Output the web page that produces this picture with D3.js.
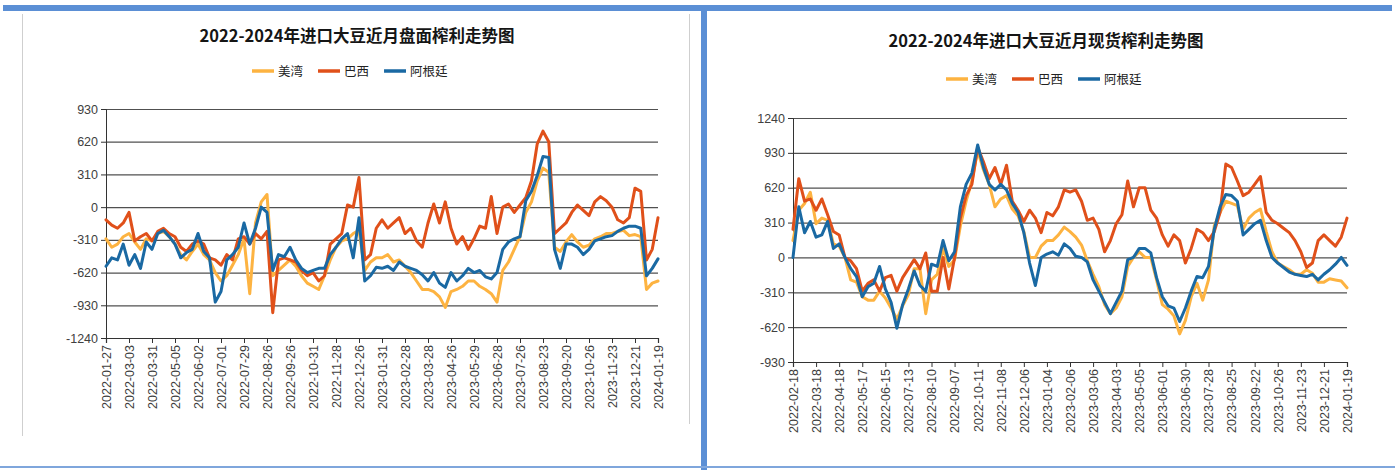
<!DOCTYPE html>
<html><head><meta charset="utf-8">
<script src="https://cdn.jsdelivr.net/npm/d3@7/dist/d3.min.js"></script>
<style>body{margin:0;background:#fff;}svg{display:block}</style>
</head><body>
<svg id="c" width="1395" height="470"></svg>
<script>
// ---------- DATA ----------
const seriesNames = ["美湾", "巴西", "阿根廷"];
const seriesColors = ["#FDB341", "#E0501A", "#1A69A3"];

// Left chart: 盘面榨利 (samples at 4 per label interval)
const leftTitle = "2022-2024年进口大豆近月盘面榨利走势图";
const leftLabels = ["2022-01-27","2022-03-03","2022-03-31","2022-05-05","2022-06-02","2022-07-01","2022-07-29","2022-08-26","2022-09-26","2022-10-31","2022-11-28","2022-12-26","2023-01-31","2023-02-28","2023-03-28","2023-04-26","2023-05-29","2023-06-28","2023-07-26","2023-08-23","2023-09-20","2023-10-26","2023-11-23","2023-12-21","2024-01-19"];
const leftYTicks = [930, 620, 310, 0, -310, -620, -930, -1240];
const leftUS = [-300,-380,-350,-280, -250,-330,-400,-300, -320,-250,-230,-280, -350,-450,-500,-420, -350,-450,-500,-620, -700,-650,-550,-450, -300,-820,-150,50, 120,-650,-600,-550, -500,-560,-650,-720, -750,-780,-650,-500, -380,-320,-300,-250, -220,-600,-520,-480, -480,-450,-520,-500, -560,-620,-700,-780, -780,-800,-850,-950, -800,-780,-750,-700, -700,-750,-780,-820, -900,-600,-520,-400, -280,-50,50,250, 370,330,-380,-420, -330,-260,-330,-380, -360,-300,-280,-250, -250,-230,-220,-270, -260,-280,-780,-720, -700];
const leftBR = [-120,-170,-200,-150, -50,-320,-280,-250, -320,-230,-200,-250, -280,-380,-420,-350, -320,-350,-480,-500, -550,-450,-500,-300, -280,-350,-250,-300, -230,-1000,-500,-480, -500,-520,-600,-650, -620,-700,-650,-350, -300,-250,20,0, 280,-500,-450,-200, -120,-200,-150,-100, -250,-200,-320,-380, -150,30,-150,50, -200,-350,-280,-400, -300,-180,-200,100, -250,0,30,-50, 20,90,250,600, 720,620,-250,-200, -150,-50,20,-30, -80,50,100,60, 0,-120,-150,-100, 180,150,-500,-400, -100];
const leftAR = [-560,-480,-500,-350, -550,-450,-580,-330, -400,-250,-220,-280, -350,-480,-430,-400, -250,-420,-480,-900, -800,-500,-450,-380, -150,-350,-200,0, -50,-600,-450,-470, -380,-500,-580,-620, -600,-580,-580,-450, -380,-300,-250,-480, -100,-700,-650,-570, -580,-560,-600,-520, -560,-580,-600,-640, -700,-620,-720,-760, -620,-700,-650,-580, -620,-600,-660,-680, -620,-400,-330,-300, -280,60,150,300, 480,470,-400,-580, -350,-350,-380,-450, -400,-320,-300,-280, -270,-230,-200,-180, -180,-200,-650,-580, -490];

// Right chart: 现货榨利
const rightTitle = "2022-2024年进口大豆近月现货榨利走势图";
const rightLabels = ["2022-02-18","2022-03-18","2022-04-18","2022-05-17","2022-06-15","2022-07-13","2022-08-10","2022-09-07","2022-10-11","2022-11-08","2022-12-06","2023-01-04","2023-02-06","2023-03-06","2023-04-03","2023-05-05","2023-06-01","2023-06-30","2023-07-28","2023-08-25","2023-09-22","2023-10-26","2023-11-23","2023-12-21","2024-01-19"];
const rightYTicks = [1240, 930, 620, 310, 0, -310, -620, -930];
const rightUS = [150,420,480,580, 300,350,330,120, 100,0,-200,-220, -350,-380,-380,-300, -360,-450,-550,-430, -330,-100,-100,-500, -200,-150,80,-80, -20,280,500,680, 950,780,650,450, 520,550,430,370, 230,0,0,100, 150,150,200,270, 230,180,110,-30, -150,-260,-420,-500, -450,-350,-80,0, 50,0,0,-200, -420,-460,-520,-680, -560,-350,-230,-380, -200,280,400,500, 480,460,250,350, 400,430,230,50, -50,-80,-110,-150, -150,-110,-140,-220, -220,-190,-200,-210, -270];
const rightBR = [250,700,500,520, 420,520,380,230, 200,0,-30,-100, -300,-230,-200,-300, -180,-160,-300,-180, -100,-20,-100,40, -300,-300,0,-280, 0,350,550,650, 980,850,700,800, 650,820,500,420, 320,420,350,220, 400,370,450,600, 580,600,500,330, 350,250,50,150, 300,380,680,450, 620,620,420,350, 200,100,200,150, -50,80,250,220, 150,230,400,830, 800,680,550,580, 650,720,400,330, 300,260,220,150, 50,-90,-50,150, 200,150,100,180, 350];
const rightAR = [0,450,220,320, 180,200,320,80, 120,0,-100,-170, -350,-260,-230,-80, -280,-400,-630,-420, -280,-120,-250,-300, -60,-80,150,-30, 50,450,650,750, 1000,800,650,600, 650,600,480,400, 220,-50,-250,0, 30,50,20,120, 80,10,0,-40, -200,-300,-400,-500, -400,-300,-20,0, 80,80,40,-180, -350,-430,-450,-570, -450,-300,-170,-180, -80,250,450,560, 550,500,200,250, 300,330,150,0, -50,-90,-130,-150, -160,-170,-150,-200, -150,-110,-60,0, -70];

const samplesPerLabel = 4;

// ---------- DRAW ----------
const svg = d3.select("#c");

// frames
svg.append("rect").attr("x", 3).attr("y", 5).attr("width", 1389).attr("height", 6).attr("fill", "#5B8FD5");
svg.append("rect").attr("x", 701).attr("y", 5).attr("width", 6).attr("height", 465).attr("fill", "#5B8FD5");
svg.append("rect").attr("x", 0).attr("y", 466).attr("width", 1395).attr("height", 2).attr("fill", "#7FA6DC");
svg.append("line").attr("x1", 22.5).attr("x2", 22.5).attr("y1", 14).attr("y2", 436).attr("stroke", "#cfcfcf");
svg.append("line").attr("x1", 689.5).attr("x2", 689.5).attr("y1", 14).attr("y2", 424).attr("stroke", "#cfcfcf");

function drawChart(cfg) {
  const g = svg.append("g");
  const n = cfg.series[0].length;
  const x = d3.scaleLinear().domain([0, n - 1]).range([cfg.x0, cfg.x1]);
  const y = d3.scaleLinear().domain([d3.min(cfg.yTicks), d3.max(cfg.yTicks)]).range([cfg.y1, cfg.y0]);

  // title
  g.append("text").attr("x", cfg.titleX).attr("y", cfg.titleY)
    .attr("text-anchor", "middle")
    .style("font-family", "'Noto Sans CJK SC', sans-serif")
    .style("font-weight", "bold").style("font-size", "16.5px").style("fill", "#151515")
    .text(cfg.title);

  // legend
  let lx = cfg.legendX;
  seriesNames.forEach((name, i) => {
    g.append("line").attr("x1", lx).attr("x2", lx + 22).attr("y1", cfg.legendY).attr("y2", cfg.legendY)
      .attr("stroke", seriesColors[i]).attr("stroke-width", 3.5);
    const t = g.append("text").attr("x", lx + 26).attr("y", cfg.legendY + 4.5)
      .style("font-family", "'Noto Sans CJK SC', sans-serif").style("font-size", "12.5px").style("fill", "#222")
      .text(name);
    lx += 26 + t.node().getComputedTextLength() + 15;
  });

  // gridlines
  const grid = g.append("g").attr("transform", `translate(${cfg.x0},0)`)
    .call(d3.axisLeft(y).tickValues(cfg.yTicks).tickSize(-(cfg.x1 - cfg.x0)).tickFormat(""));
  grid.select(".domain").remove();
  grid.selectAll(".tick line").attr("stroke", "#505050").attr("stroke-width", 1.2);

  // y axis
  const ya = g.append("g").attr("transform", `translate(${cfg.x0},0)`)
    .call(d3.axisLeft(y).tickValues(cfg.yTicks).tickSize(5).tickPadding(3).tickFormat(d => String(d)));
  ya.select(".domain").attr("stroke", "#333");
  ya.selectAll(".tick line").attr("stroke", "#333");
  ya.selectAll("text").style("font-family", "'Liberation Sans', Arial, sans-serif")
    .style("font-size", "12.5px").style("fill", "#404040");

  // x axis
  const tickIdx = d3.range(0, n, samplesPerLabel);
  const xa = g.append("g").attr("transform", `translate(0,${cfg.y1})`)
    .call(d3.axisBottom(x).tickValues(tickIdx).tickSize(5).tickFormat(d => cfg.labels[d / samplesPerLabel]));
  xa.select(".domain").attr("stroke", "#333").attr("stroke-width", 1.2);
  xa.selectAll(".tick line").attr("stroke", "#333");
  xa.selectAll("text")
    .attr("transform", "rotate(-90)").attr("x", -7).attr("y", 0).attr("dy", "0.35em")
    .attr("text-anchor", "end")
    .style("font-family", "'Liberation Sans', Arial, sans-serif")
    .style("font-size", "12.5px").style("fill", "#404040");

  // lines
  const line = d3.line().x((d, i) => x(i)).y(d => y(d));
  cfg.series.forEach((s, i) => {
    g.append("path").datum(s).attr("d", line).attr("fill", "none")
      .attr("stroke", seriesColors[i]).attr("stroke-width", 3)
      .attr("stroke-linejoin", "round").attr("stroke-linecap", "round");
  });
}

drawChart({
  title: leftTitle, labels: leftLabels, yTicks: leftYTicks,
  series: [leftUS, leftBR, leftAR],
  x0: 106, x1: 658, y0: 109, y1: 338,
  titleX: 357, titleY: 42, legendX: 252, legendY: 71
});
drawChart({
  title: rightTitle, labels: rightLabels, yTicks: rightYTicks,
  series: [rightUS, rightBR, rightAR],
  x0: 793, x1: 1347, y0: 118, y1: 362,
  titleX: 1046, titleY: 47, legendX: 946, legendY: 79
});
</script>
</body></html>
